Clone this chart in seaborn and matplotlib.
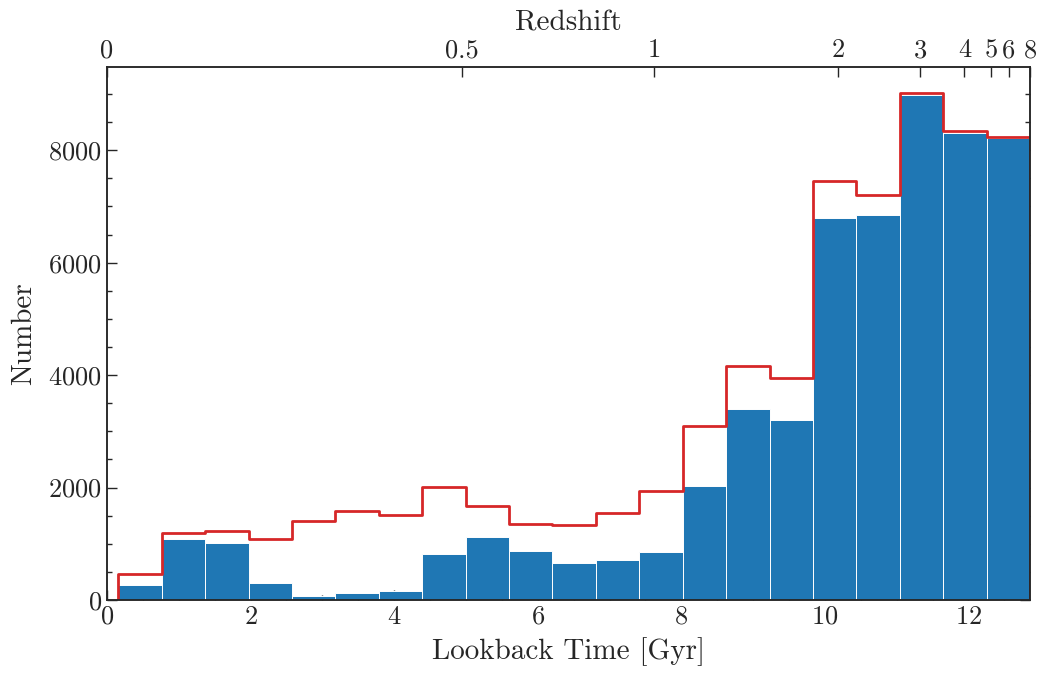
import numpy as np
import pandas as pd
import matplotlib
matplotlib.use("Agg")
import matplotlib.pyplot as plt
import seaborn as sns

# Histogram bins in lookback time [Gyr]
t_min, t_max, n_bins = 0.158, 12.857, 21

# Counts per bin: selected subsample (filled) and full sample (outline)
selected_counts = [260, 1090, 1010, 300, 65, 130, 155, 820, 1120, 865, 650,
                   712, 850, 2030, 3400, 3200, 6790, 6850, 8990, 8310, 8215]
total_counts = [470, 1200, 1235, 1080, 1410, 1585, 1505, 2015, 1665, 1355, 1325,
                1540, 1930, 3100, 4170, 3945, 7460, 7210, 9025, 8335, 8240]

# Redshift ticks for the top axis
z_ticks = [0, 0.5, 1, 2, 3, 4, 5, 6, 8]
z_labels = ["0", "0.5", "1", "2", "3", "4", "5", "6", "8"]

# Flat LambdaCDM cosmology
H0, Om0 = 72.0, 0.265


def lookback_time(z):
    """Lookback time in Gyr for a flat LambdaCDM universe."""
    z = np.asarray(z, dtype=float)
    ol = 1.0 - Om0
    t_h = 977.792 / H0
    pref = 2.0 / (3.0 * np.sqrt(ol)) * t_h
    r = np.sqrt(ol / Om0)
    age = lambda zz: pref * np.arcsinh(r * (1.0 + zz) ** -1.5)
    return age(0.0) - age(z)


edges = list(np.linspace(t_min, t_max, n_bins + 1))
centers = [0.5 * (a + b) for a, b in zip(edges[:-1], edges[1:])]
df = pd.DataFrame({"t": centers, "sel": selected_counts, "tot": total_counts})

sns.set_style("ticks")
plt.rcParams.update({
    "font.family": "serif",
    "font.serif": ["cmr10"],
    "mathtext.fontset": "cm",
    "axes.formatter.use_mathtext": True,
    "axes.unicode_minus": False,
    "axes.linewidth": 1.1,
})

fig = plt.figure(figsize=(10.48, 6.74), dpi=100)
ax = fig.add_axes([0.1021, 0.1098, 0.8807, 0.7908])

sns.histplot(data=df, x="t", weights="sel", bins=edges, ax=ax,
             color="#1f77b4", alpha=1.0, edgecolor="white", linewidth=0.7)
sns.histplot(data=df, x="t", weights="tot", bins=edges, ax=ax,
             element="step", fill=False, color="#d62728", linewidth=2.0)

# Close the outline down to the baseline at both ends of the range
outline = ax.lines[-1]
xs, ys = outline.get_data()
outline.set_data(np.r_[xs[0], xs, xs[-1]], np.r_[0, ys, 0])

ax.set_xlim(0, t_max)
ax.set_ylim(0, 9480)
ax.set_xticks(np.arange(0, 13, 2))
ax.set_yticks(np.arange(0, 9000, 2000))
ax.xaxis.set_minor_locator(matplotlib.ticker.MultipleLocator(0.5))
ax.yaxis.set_minor_locator(matplotlib.ticker.MultipleLocator(500))
ax.tick_params(which="both", direction="in", top=False, right=True,
               labelsize=19, width=1.0)
ax.tick_params(which="major", length=7)
ax.tick_params(which="minor", length=3.5)
ax.set_xlabel("Lookback Time [Gyr]", fontsize=21, labelpad=6)
ax.set_ylabel("Number", fontsize=21, labelpad=8)

top = ax.twiny()
top.set_xlim(ax.get_xlim())
top.set_xticks(lookback_time(z_ticks))
top.set_xticklabels(z_labels)
top.tick_params(direction="in", length=7, width=1.0, labelsize=19)
top.set_xlabel("Redshift", fontsize=21, labelpad=6)

fig.savefig("out.png", dpi=100)
